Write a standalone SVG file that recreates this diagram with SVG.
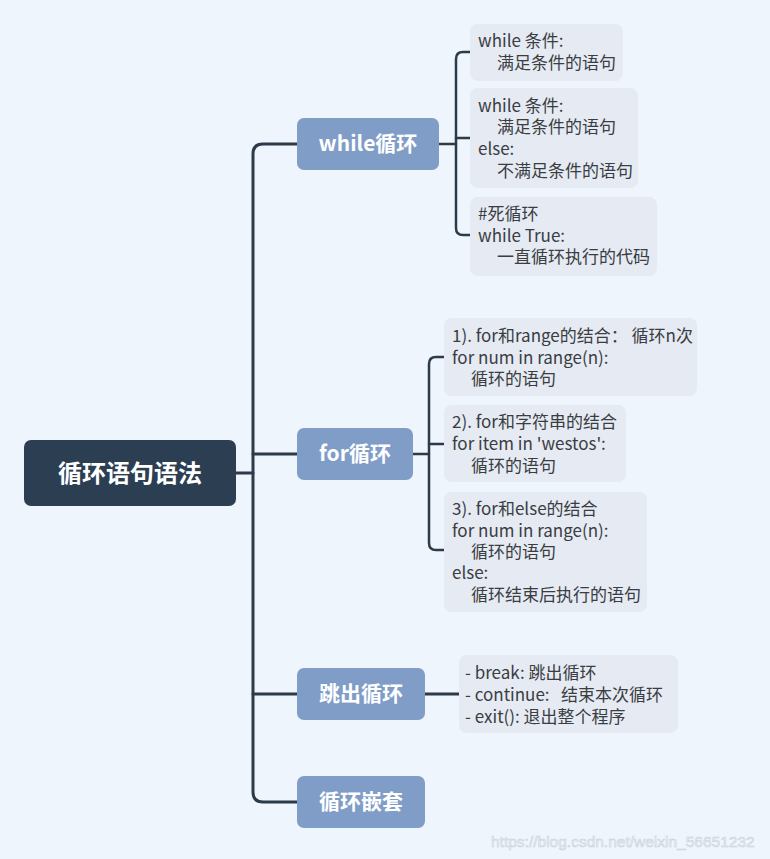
<svg xmlns="http://www.w3.org/2000/svg" width="770" height="859" viewBox="0 0 770 859">
<style>
.conn{fill:none;stroke:#2c3a4a;stroke-width:3;stroke-linecap:round;stroke-linejoin:round}
.br{fill:none;stroke:#2c3a4a;stroke-width:2.5;stroke-linecap:round;stroke-linejoin:round}
.root{fill:#2b3e52}
.branch{fill:#7f9dc7}
.leaf{fill:#e5eaf3}
.rt{font-family:"Noto Sans CJK SC","Noto Sans",sans-serif;font-weight:bold;font-size:24px;fill:#ffffff;text-anchor:middle}
.bt{font-family:"Noto Sans CJK SC","Noto Sans",sans-serif;font-weight:bold;font-size:21px;fill:#ffffff;text-anchor:middle}
.lt{font-family:"Noto Sans CJK SC","Noto Sans",sans-serif;font-size:17px;fill:#3a3d42;white-space:pre}
.wm{font-family:"Liberation Sans",sans-serif;font-size:15.5px;fill:#e8edf3;stroke:#c9d0d8;stroke-width:0.5}
</style>
<rect width="770" height="859" fill="#eef5fc"/>
<g id="connectors">
<path class="conn" d="M236 473 H253"/>
<path class="conn" d="M297 144 H263 Q253 144 253 154 V792 Q253 802 263 802 H297"/>
<path class="conn" d="M253 454 H297"/>
<path class="conn" d="M253 694 H297"/>
<path class="br" d="M439 144 H456"/>
<path class="br" d="M470 52 H463 Q456 52 456 59 V228 Q456 235 463 235 H470"/>
<path class="br" d="M456 138 H470"/>
<path class="br" d="M413 454 H429"/>
<path class="br" d="M444 357 H436 Q429 357 429 364 V543 Q429 550 436 550 H444"/>
<path class="br" d="M429 444 H444"/>
<path class="conn" d="M425 694 H459"/>
</g>
<g id="root">
<rect class="root" x="24" y="440" width="212" height="66" rx="7"/>
<text class="rt" x="130" y="482">循环语句语法</text>
</g>
<g id="while">
<rect class="branch" x="297" y="118" width="142" height="52" rx="7"/>
<text class="bt" x="368" y="151">while循环</text>
</g>
<g id="for">
<rect class="branch" x="297" y="428" width="116" height="52" rx="7"/>
<text class="bt" x="355" y="461">for循环</text>
</g>
<g id="break">
<rect class="branch" x="297" y="668" width="128" height="52" rx="7"/>
<text class="bt" x="361" y="701">跳出循环</text>
</g>
<g id="nest">
<rect class="branch" x="297" y="776" width="128" height="52" rx="7"/>
<text class="bt" x="361" y="809">循环嵌套</text>
</g>
<g id="w1">
<rect class="leaf" x="470" y="24" width="153" height="57" rx="8"/>
<text class="lt"><tspan x="478" y="47">while 条件:</tspan><tspan x="497" y="69">满足条件的语句</tspan></text>
</g>
<g id="w2">
<rect class="leaf" x="470" y="88" width="168" height="100" rx="8"/>
<text class="lt"><tspan x="478" y="112">while 条件:</tspan><tspan x="497" y="133">满足条件的语句</tspan><tspan x="478" y="155">else:</tspan><tspan x="497" y="177">不满足条件的语句</tspan></text>
</g>
<g id="w3">
<rect class="leaf" x="470" y="197" width="187" height="79" rx="8"/>
<text class="lt"><tspan x="478" y="220">#死循环</tspan><tspan x="478" y="242">while True:</tspan><tspan x="497" y="263">一直循环执行的代码</tspan></text>
</g>
<g id="f1">
<rect class="leaf" x="444" y="318" width="253" height="78" rx="8"/>
<text class="lt"><tspan x="452" y="342">1). for和range的结合： 循环n次</tspan><tspan x="452" y="364">for num in range(n):</tspan><tspan x="471" y="385">循环的语句</tspan></text>
</g>
<g id="f2">
<rect class="leaf" x="444" y="405" width="182" height="77" rx="8"/>
<text class="lt"><tspan x="452" y="428">2). for和字符串的结合</tspan><tspan x="452" y="450">for item in 'westos':</tspan><tspan x="471" y="472">循环的语句</tspan></text>
</g>
<g id="f3">
<rect class="leaf" x="444" y="492" width="203" height="120" rx="8"/>
<text class="lt"><tspan x="452" y="515">3). for和else的结合</tspan><tspan x="452" y="537">for num in range(n):</tspan><tspan x="471" y="558">循环的语句</tspan><tspan x="452" y="579">else:</tspan><tspan x="471" y="601">循环结束后执行的语句</tspan></text>
</g>
<g id="j1">
<rect class="leaf" x="459" y="655" width="219" height="78" rx="8"/>
<text class="lt"><tspan x="465" y="679">- break: 跳出循环</tspan><tspan x="465" y="701">- continue:   结束本次循环</tspan><tspan x="465" y="723">- exit(): 退出整个程序</tspan></text>
</g>
<text class="wm" x="491" y="847">https://blog.csdn.net/weixin_56651232</text>
</svg>
